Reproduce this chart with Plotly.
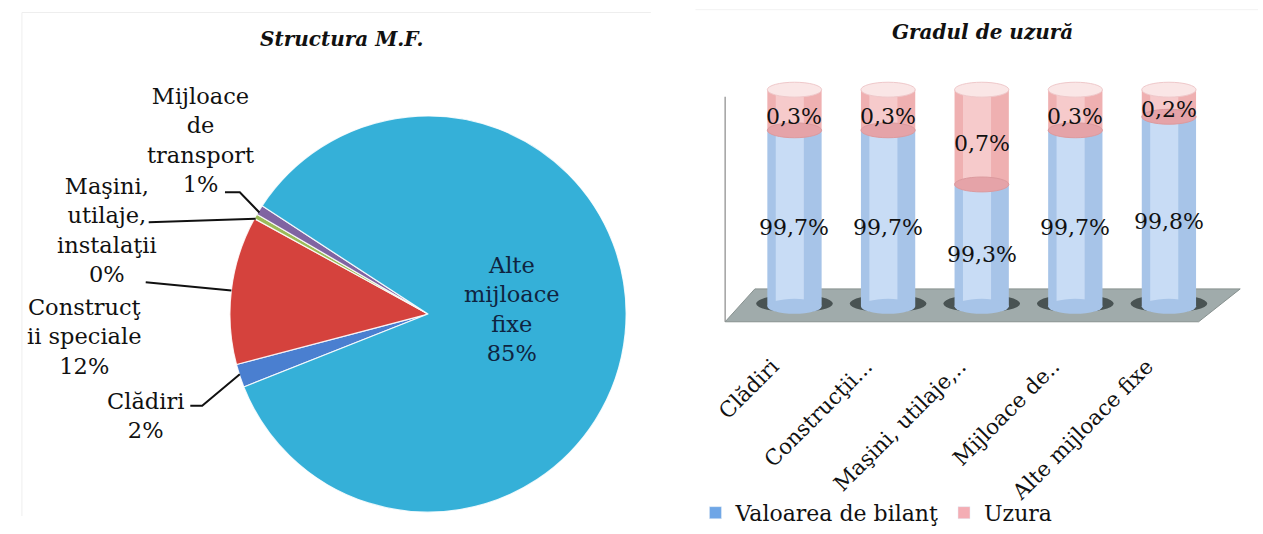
import math
import plotly.graph_objects as go

W, H = 1263, 534
FONT = "DejaVu Serif"

# ---- pie: structure of fixed assets ----
pie_labels = ["Clădiri", "Construcţii speciale", "Maşini, utilaje, instalaţii",
              "Mijloace de transport", "Alte mijloace fixe"]
pie_values = [1.9, 12.1, 0.4, 0.8, 84.8]
pie_colors = ["#4a7fd0", "#d5423d", "#9bbb59", "#8064a2", "#35b0d8"]
# wrapped captions used for the slice labels
pie_captions = ["Clădiri", "Construcţ<br>ii speciale", "Maşini,<br>utilaje,<br>instalaţii",
                "Mijloace<br>de<br>transport", "Alte<br>mijloace<br>fixe"]

# ---- bars: degree of wear ----
bar_categories = ["Clădiri", "Construcţii...", "Maşini, utilaje,..", "Mijloace de..",
                  "Alte mijloace fixe"]
valoare_bilant = [99.7, 99.7, 99.3, 99.7, 99.8]
uzura = [0.3, 0.3, 0.7, 0.3, 0.2]


def px(x):
    return x / W


def py(y):
    return 1 - y / H


fig = go.Figure()

# ---------------- pie ----------------
PIE_CX, PIE_CY, PIE_R = 420, 325, 200
PIE_BOX = 205
ROTATION = 248.4

fig.add_trace(go.Pie(
    labels=pie_labels, values=pie_values, sort=False, direction="clockwise",
    rotation=ROTATION,
    marker=dict(colors=pie_colors, line=dict(color="rgba(255,255,255,0.85)", width=1.2)),
    domain=dict(x=[px(PIE_CX - PIE_BOX), px(PIE_CX + PIE_BOX)],
                y=[py(PIE_CY + PIE_BOX), py(PIE_CY - PIE_BOX)]),
    textinfo="none",
    showlegend=False, hoverinfo="label+percent",
))

total = sum(pie_values)
# label placement (pixel centre) and leader start / elbow points
label_pos = [(135, 430), (73, 348), (96, 238), (190, 145), (505, 320)]
leader_start = [(180, 420), (135, 292), (138, 230), (215, 199), None]
leader_elbow = [(192, 420), (135, 292), (138, 230), (230, 199), None]
label_color = ["#111111", "#111111", "#111111", "#111111", "#0f2440"]

annotations = []
shapes = []
cum = 0.0
for i, v in enumerate(pie_values):
    mid = ROTATION + 360 * (cum + v / 2) / total
    cum += v
    pct = round(v / total * 100)
    lx, ly = label_pos[i]
    annotations.append(dict(
        x=px(lx), y=py(ly), xref="paper", yref="paper", showarrow=False,
        text=f"{pie_captions[i]}<br>{pct}%", align="center",
        font=dict(family=FONT, size=22.5, color=label_color[i]),
        xanchor="center", yanchor="middle"))
    if leader_start[i] is None:
        continue
    a = math.radians(mid)
    tip = (PIE_CX + PIE_R * math.sin(a), PIE_CY - PIE_R * math.cos(a))
    s, e = leader_start[i], leader_elbow[i]
    path = (f"M {px(s[0])},{py(s[1])} L {px(e[0])},{py(e[1])} "
            f"L {px(tip[0])},{py(tip[1])}")
    shapes.append(dict(type="path", path=path, xref="paper", yref="paper",
                       line=dict(color="#111111", width=2)))

annotations.append(dict(x=px(333), y=py(40), xref="paper", yref="paper", showarrow=False,
                        xanchor="center", yanchor="middle",
                        text="<b><i>Structura M.F.</i></b>",
                        font=dict(family=FONT, size=20, color="#111111")))
annotations.append(dict(x=px(980), y=py(33), xref="paper", yref="paper", showarrow=False,
                        xanchor="center", yanchor="middle",
                        text="<b><i>Gradul de uzură</i></b>",
                        font=dict(family=FONT, size=20, color="#111111")))

# faint frame of the pie panel
shapes.append(dict(type="path", xref="paper", yref="paper",
                   path=f"M {px(10)},{py(H)} L {px(10)},{py(13)} L {px(645)},{py(13)}",
                   line=dict(color="#eeeeee", width=1)))
shapes.append(dict(type="line", xref="paper", yref="paper",
                   x0=px(690), x1=px(1258), y0=py(10), y1=py(10),
                   line=dict(color="#f2f2f2", width=1)))

# ---------------- stacked cylinders ----------------
FLOOR = 98.4
BW = 0.58
xs = list(range(len(bar_categories)))
blue_len = [v - FLOOR for v in valoare_bilant]
tops = [v + u for v, u in zip(valoare_bilant, uzura)]

# back wall edge and floor
shapes.append(dict(type="line", xref="paper", yref="paper",
                   x0=px(720), x1=px(720), y0=py(100), y1=py(333),
                   line=dict(color="#a0a0a0", width=1.5), layer="below"))
shapes.append(dict(type="path", xref="paper", yref="paper", layer="below",
                   path=(f"M {px(720)},{py(333)} L {px(1198)},{py(333)} "
                         f"L {px(1240)},{py(299)} L {px(750)},{py(299)} Z"),
                   fillcolor="#a0abab", line=dict(color="#87918f", width=1)))

# blue body with highlight strip
fig.add_trace(go.Bar(x=xs, y=blue_len, base=FLOOR, width=BW,
                     marker=dict(color="#a7c4e8", line=dict(width=0)),
                     showlegend=False, hoverinfo="skip"))
fig.add_trace(go.Bar(x=xs, y=blue_len, base=FLOOR, width=0.3, offset=-0.2,
                     marker=dict(color="#c8dcf5", line=dict(width=0)),
                     showlegend=False, hoverinfo="skip"))
# pink (wear) body with highlight strip
fig.add_trace(go.Bar(x=xs, y=uzura, base=valoare_bilant, width=BW,
                     marker=dict(color="#efb0b1", line=dict(width=0)),
                     showlegend=False, hoverinfo="skip"))
fig.add_trace(go.Bar(x=xs, y=uzura, base=valoare_bilant, width=0.3, offset=-0.2,
                     marker=dict(color="#f6cacb", line=dict(width=0)),
                     showlegend=False, hoverinfo="skip"))

# legend entries
fig.add_trace(go.Bar(x=[None], y=[None], name="Valoarea de bilanţ",
                     marker=dict(color="#6fa6e6")))
fig.add_trace(go.Bar(x=[None], y=[None], name="Uzura",
                     marker=dict(color="#f4adb4")))

EH = 0.055  # half height of the cylinder caps in axis units
for x, v, t in zip(xs, valoare_bilant, tops):
    # shadow on the floor
    shapes.append(dict(type="circle", xref="x", yref="y", layer="below",
                       x0=x - 0.41, x1=x + 0.41, y0=FLOOR - 0.045, y1=FLOOR + 0.085,
                       fillcolor="#3f4949", line=dict(width=0), opacity=0.9))
    # rounded bottom
    shapes.append(dict(type="circle", xref="x", yref="y",
                       x0=x - BW / 2, x1=x + BW / 2, y0=FLOOR - EH, y1=FLOOR + EH,
                       fillcolor="#a7c4e8", line=dict(width=0)))
    # boundary between value and wear
    shapes.append(dict(type="circle", xref="x", yref="y",
                       x0=x - BW / 2, x1=x + BW / 2, y0=v - EH, y1=v + EH,
                       fillcolor="#e5a3a8", line=dict(color="#dc9a9e", width=1)))
    # top cap
    shapes.append(dict(type="circle", xref="x", yref="y",
                       x0=x - BW / 2, x1=x + BW / 2, y0=t - EH, y1=t + EH,
                       fillcolor="#fae6e6", line=dict(color="#efc8ca", width=1)))
    # value labels
    annotations.append(dict(x=x, y=(FLOOR + v) / 2 - 0.07, xref="x", yref="y",
                            showarrow=False, xanchor="center", yanchor="middle",
                            text=f"{v:.1f}".replace(".", ",") + "%",
                            font=dict(family=FONT, size=22, color="#111111")))
    u = t - v
    annotations.append(dict(x=x, y=(v + t) / 2 - 0.045, xref="x", yref="y",
                            showarrow=False, xanchor="center", yanchor="middle",
                            text=f"{u:.1f}".replace(".", ",") + "%",
                            font=dict(family=FONT, size=22, color="#111111")))

fig.update_layout(
    width=W, height=H, margin=dict(l=0, r=0, t=0, b=0),
    paper_bgcolor="white", plot_bgcolor="rgba(0,0,0,0)",
    barmode="overlay",
    xaxis=dict(domain=[px(721), px(1237)], range=[-0.73, 4.73],
               tickmode="array", tickvals=xs, ticktext=bar_categories,
               tickangle=-45, showgrid=False, zeroline=False, showline=False,
               ticks="", ticklabelstandoff=22, ticklabelshift=-22,
               tickfont=dict(family=FONT, size=21.5, color="#111111")),
    yaxis=dict(domain=[py(338), py(76)], range=[98.25, 100.12], visible=False),
    legend=dict(orientation="h", x=px(690), y=py(509), xanchor="left", yanchor="top",
                font=dict(family=FONT, size=22, color="#111111"),
                bgcolor="rgba(0,0,0,0)", itemclick=False),
    shapes=shapes, annotations=annotations,
    font=dict(family=FONT),
)

fig.write_html("out.html")
